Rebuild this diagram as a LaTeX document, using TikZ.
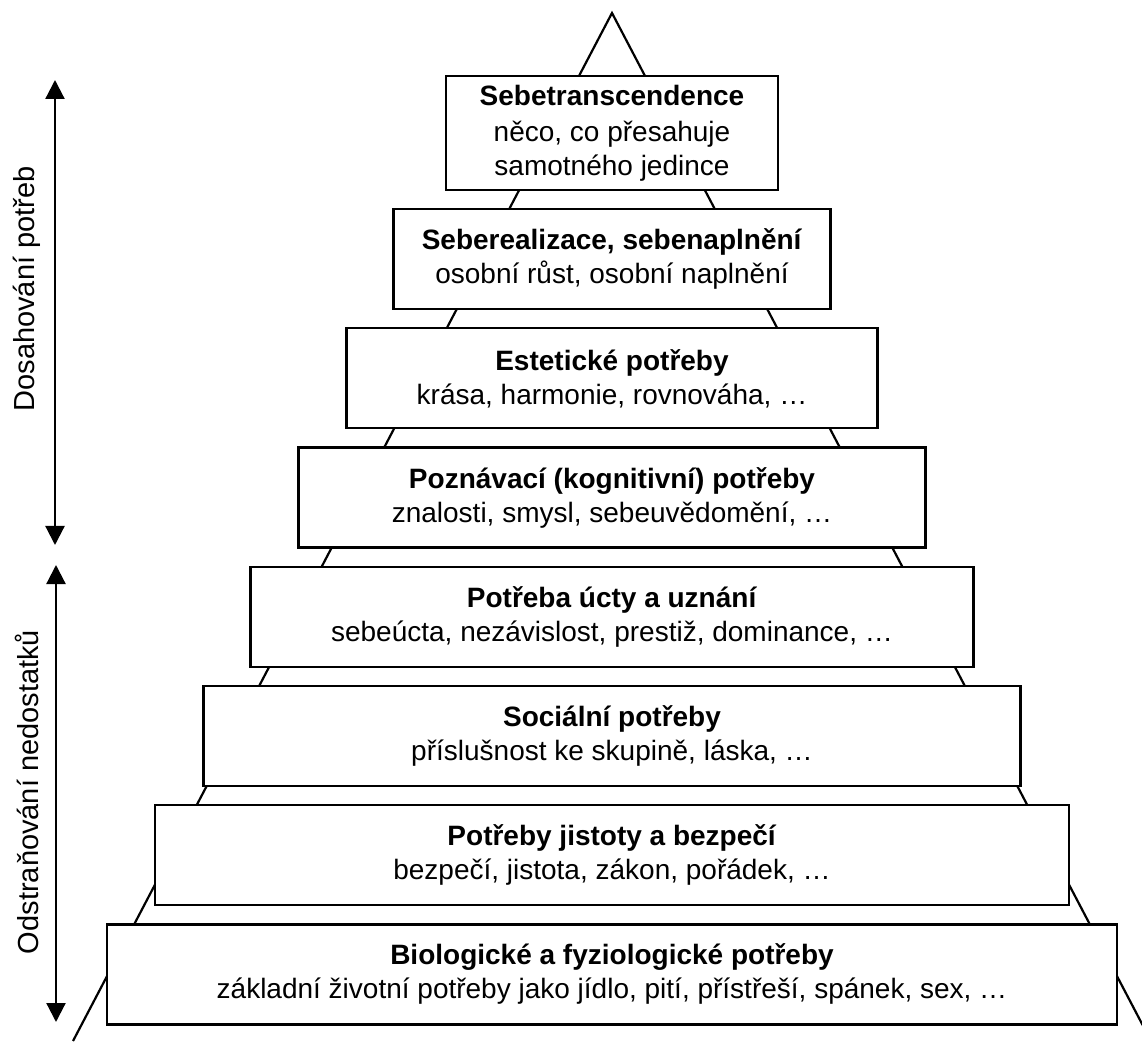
\documentclass[tikz,border=0pt]{standalone}
\usepackage{fontspec}
\setmainfont{Liberation Sans}
\usepackage{tikz}
\usetikzlibrary{arrows.meta,positioning}

\begin{document}
\begin{tikzpicture}[x=0.5pt,y=-0.5pt,node distance=8.5pt,
    tier/.style={draw,fill=white,line width=1.1pt,align=center,minimum height=50pt,
      font=\fontsize{14}{17}\selectfont},
    reach/.style={{Triangle[length=9.5pt,width=9.5pt]}-{Triangle[length=9.5pt,width=9.5pt]},line width=1.1pt},
    side/.style={rotate=90,font=\fontsize{14.5}{17}\selectfont}]
    \useasboundingbox (0,0) rectangle (1142,1043);
    \clip (0,0) rectangle (1142,1043);
    \coordinate (apex)  at (612,13);
    \coordinate (baseL) at (73,1041);
    \coordinate (baseR) at (1151,1041);
    \draw[line width=1.1pt] (baseL) -- (apex) -- (baseR);
    \node[tier,minimum width=166pt,minimum height=57pt] (T1) at (612,133)
      {\textbf{Sebetranscendence}\\[1pt]něco, co přesahuje\\samotného jedince};
    \node[tier,minimum width=218.5pt] (T2) [below=of T1]
      {\textbf{Seberealizace, sebenaplnění}\\osobní růst, osobní naplnění};
    \node[tier,minimum width=265.5pt] (T3) [below=of T2]
      {\textbf{Estetické potřeby}\\krása, harmonie, rovnováha, \dots};
    \node[tier,minimum width=313.5pt] (T4) [below=of T3]
      {\textbf{Poznávací (kognitivní) potřeby}\\znalosti, smysl, sebeuvědomění, \dots};
    \node[tier,minimum width=361.5pt] (T5) [below=of T4]
      {\textbf{Potřeba úcty a uznání}\\sebeúcta, nezávislost, prestiž, dominance, \dots};
    \node[tier,minimum width=408.5pt] (T6) [below=of T5]
      {\textbf{Sociální potřeby}\\příslušnost ke skupině, láska, \dots};
    \node[tier,minimum width=457pt] (T7) [below=of T6]
      {\textbf{Potřeby jistoty a bezpečí}\\bezpečí, jistota, zákon, pořádek, \dots};
    \node[tier,minimum width=505pt] (T8) [below=of T7]
      {\textbf{Biologické a fyziologické potřeby}\\základní životní potřeby jako jídlo, pití, přístřeší, spánek, sex, \dots};
    \coordinate (reachTop) at (55,80);
    \coordinate (reachBot) at (55,545);
    \coordinate (fixTop)   at (56,565);
    \coordinate (fixBot)   at (56,1022);
    \draw[reach] (reachTop) -- (reachBot);
    \draw[reach] (fixTop) -- (fixBot);
    \node[side] (reachLbl) at (27,289) {Dosahování potřeb};
    \node[side] (fixLbl)   at (27,792) {Odstraňování nedostatků};
\end{tikzpicture}
\end{document}
